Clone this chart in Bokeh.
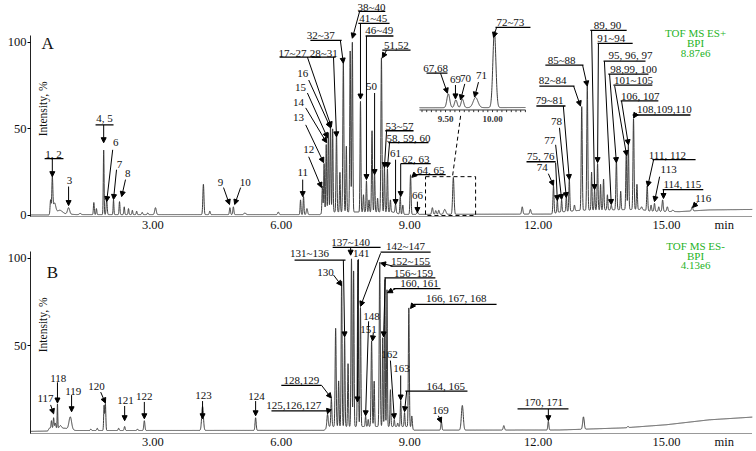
import numpy as np
from bokeh.plotting import figure
from bokeh.models import (Range1d, FixedTicker, Arrow, NormalHead, Label,
                          ColumnDataSource)
from bokeh.layouts import column
from bokeh.embed import file_html
from bokeh.resources import INLINE
from bokeh.core.properties import value

FONT = "Liberation Serif"

# ---------------- Panel A (ES+) peak table: retention time (min), height (%), width (min)
a_rt = [0.61, 0.65, 0.70, 0.82, 1.03, 1.30, 1.62, 1.68, 1.85, 1.92, 2.08, 2.22, 2.33, 2.43,
        2.52, 2.62, 2.75, 2.88, 3.06, 4.18, 4.33, 4.80, 4.88, 5.15, 5.93, 6.45, 6.52, 6.60,
        6.96, 7.00, 7.05, 7.10, 7.15, 7.20, 7.29, 7.37, 7.45, 7.52, 7.61, 7.66, 7.85, 7.92,
        7.99, 8.05, 8.12, 8.18, 8.25, 8.34, 8.41, 8.48, 8.55, 8.67, 8.78, 8.84, 9.02, 9.18,
        9.53, 9.61, 9.68, 9.82, 10.02, 11.63, 11.82, 12.36, 12.45, 12.55, 12.66, 12.73,
        12.85, 13.02, 13.15, 13.25, 13.32, 13.39, 13.46, 13.53, 13.62, 13.71, 13.83, 13.93,
        14.06, 14.11, 14.23, 14.31, 14.42, 14.55, 14.64, 14.72, 14.82, 14.91, 15.02, 15.15,
        15.60]
a_height = [9, 21, 7, 3, 4.5, 1.2, 7.5, 4, 38, 9, 9, 8, 5, 4,
            3, 2.5, 1.8, 1.5, 4.5, 18, 2.5, 4.5, 5, 1.5, 2, 9, 11, 4,
            17, 30, 41, 48, 52, 50, 48, 25, 89, 40, 95, 100, 66, 12,
            20, 9, 49, 24, 10, 91, 28, 27, 9, 6.5, 11, 6, 23.5, 2,
            4.5, 2.8, 3.0, 3.5, 22, 5, 3.5, 17, 9, 9, 11, 21,
            6, 63, 75, 25, 15, 30, 18, 21, 12, 6, 32, 14,
            35, 41, 56, 18, 5, 17, 6, 7, 5, 9, 5, 3,
            5]
a_width = [0.012, 0.012, 0.03, 0.06, 0.025, 0.02, 0.01, 0.01, 0.009, 0.012, 0.009, 0.01, 0.01, 0.01,
           0.01, 0.01, 0.012, 0.012, 0.018, 0.013, 0.012, 0.012, 0.012, 0.02, 0.015, 0.01, 0.01, 0.015,
           0.01, 0.01, 0.01, 0.01, 0.01, 0.01, 0.011, 0.01, 0.012, 0.01, 0.011, 0.011, 0.01, 0.01,
           0.01, 0.01, 0.011, 0.01, 0.01, 0.012, 0.01, 0.01, 0.01, 0.012, 0.01, 0.012, 0.012, 0.015,
           0.015, 0.014, 0.014, 0.025, 0.016, 0.015, 0.015, 0.012, 0.01, 0.01, 0.01, 0.011,
           0.012, 0.012, 0.012, 0.01, 0.01, 0.011, 0.01, 0.011, 0.01, 0.012, 0.012, 0.01,
           0.011, 0.011, 0.012, 0.011, 0.015, 0.012, 0.012, 0.012, 0.012, 0.013, 0.015, 0.02,
           0.015]
a_base_t = [0.14, 0.55, 0.9, 1.2, 6.9, 7.0, 8.6, 8.8, 12.3, 12.5, 13.0, 14.4, 14.6, 15.3, 16.0, 17.1]
a_base_h = [0.3, 0.3, 1.0, 0.5, 0.5, 2.0, 2.0, 0.6, 0.8, 2.0, 3.0, 3.5, 2.5, 2.2, 3.2, 3.5]

# ---------------- Panel B (ES-) peak table
b_rt = [0.58, 0.63, 0.68, 0.72, 0.77, 0.84, 1.07, 1.55, 1.70, 1.86, 1.89, 2.20, 2.34, 2.64,
        2.80, 4.16, 5.40, 7.08, 7.17, 7.27, 7.34, 7.41, 7.48, 7.56, 7.64, 7.69, 7.79, 7.85,
        7.97, 8.03, 8.11, 8.17, 8.30, 8.37, 8.42, 8.47, 8.55, 8.64, 8.72, 8.79, 8.88, 8.98,
        9.05, 9.74, 10.23, 11.20, 12.24, 13.06, 14.10]
b_height = [3, 7.3, 9, 6, 17, 4.5, 9.5, 2.5, 3, 16, 17, 3, 4, 2.5,
            7.3, 15.5, 9, 11, 20, 60, 30, 87, 55, 40, 100, 93, 99, 72,
            10, 8, 53, 30, 98, 55, 88, 82, 25, 8, 6, 19, 12, 72,
            10, 7, 16, 4.5, 7, 9.5, 4]
b_width = [0.02, 0.01, 0.01, 0.012, 0.007, 0.025, 0.03, 0.012, 0.012, 0.01, 0.01, 0.012, 0.012, 0.012,
           0.013, 0.02, 0.013, 0.015, 0.012, 0.012, 0.01, 0.011, 0.01, 0.01, 0.011, 0.01, 0.011, 0.01,
           0.01, 0.01, 0.012, 0.01, 0.012, 0.009, 0.009, 0.009, 0.01, 0.01, 0.01, 0.01, 0.01, 0.011,
           0.012, 0.012, 0.022, 0.015, 0.012, 0.018, 0.015]
b_base_t = [0.14, 0.55, 0.62, 0.95, 1.2, 7.0, 7.1, 9.0, 9.1, 12.5, 14.0, 15.0, 16.0, 17.1]
b_base_h = [1.2, 1.4, 3.0, 3.0, 1.7, 1.8, 4.0, 4.0, 1.9, 2.0, 3.2, 5.0, 7.8, 9.5]

# ---------------- axis tick labels
x_ticks = [3, 6, 9, 12, 15]
x_tick_labels = ["3.00", "6.00", "9.00", "12.00", "15.00"]
inset_ticks = [9.5, 10.0]
inset_tick_labels = ["9.50", "10.00"]

# ---------------- annotations: (text, label x, label y)
a_labels = [("1, 2", 0.68, 35.6), ("3", 1.05, 20.1), ("4, 5", 1.87, 56.3), ("6", 2.13, 42.0),
            ("7", 2.22, 29.3), ("8", 2.41, 24.1), ("9", 4.58, 19.0), ("10", 5.16, 19.0),
            ("11", 6.50, 24.7), ("12", 6.64, 37.9), ("13", 6.40, 56.3), ("14", 6.40, 65.5),
            ("15", 6.45, 73.6), ("16", 6.50, 82.2), ("17~27", 6.26, 93.7), ("28~31", 6.99, 93.7),
            ("32~37", 6.92, 104.0), ("38~40", 8.11, 120.6), ("41~45", 8.15, 113.8),
            ("46~49", 8.29, 106.9), ("50", 8.11, 74.7), ("51,52", 8.69, 98.3),
            ("53~57", 8.76, 51.7), ("58, 59, 60", 8.97, 44.8), ("61", 8.67, 35.6),
            ("62, 63", 9.14, 32.8), ("64, 65", 9.49, 26.4), ("66", 9.18, 11.5),
            ("74", 12.10, 27.6), ("75, 76", 12.06, 34.5), ("77", 12.27, 43.1), ("78", 12.43, 54.0),
            ("79~81", 12.27, 66.7), ("82~84", 12.34, 78.2), ("85~88", 12.55, 89.7),
            ("89, 90", 13.62, 109.8), ("91~94", 13.71, 102.3), ("95, 96, 97", 14.16, 92.5),
            ("98,99, 100", 14.23, 84.5), ("101~105", 14.23, 78.2), ("106, 107", 14.39, 69.0),
            ("108,109,110", 14.95, 60.9), ("111, 112", 15.02, 35.1), ("113", 15.05, 26.4),
            ("114, 115", 15.37, 18.4), ("116", 15.86, 9.8)]
a_bars = [(0.47, 0.91, 32.8), (1.66, 2.08, 52.3), (5.96, 6.92, 91.4), (6.71, 7.27, 91.4),
          (6.68, 7.41, 101.1), (7.80, 8.43, 117.8), (7.80, 8.53, 110.9), (7.97, 8.62, 103.6),
          (8.36, 9.02, 95.4), (8.43, 9.09, 48.9), (8.50, 9.44, 42.0), (8.79, 9.49, 29.9),
          (9.09, 9.84, 23.6), (11.73, 12.41, 31.0), (11.96, 12.64, 63.2), (12.03, 12.85, 74.7),
          (12.17, 13.06, 86.8), (13.22, 14.07, 106.9), (13.39, 14.21, 99.4), (13.53, 14.51, 89.1),
          (13.64, 14.58, 81.6), (13.76, 14.67, 75.3), (13.93, 14.81, 66.1), (14.21, 15.56, 58.0),
          (14.67, 15.68, 32.2), (14.91, 15.86, 14.9)]
a_arrows = [(0.65, 32.8, 0.65, 22.4), (1.03, 16.7, 1.03, 5.7), (1.85, 52.3, 1.85, 42.0),
            (2.06, 37.9, 1.92, 8.0), (2.15, 26.4, 2.08, 9.2), (2.36, 20.7, 2.27, 10.9),
            (4.65, 16.1, 4.79, 6.3), (5.05, 16.1, 4.91, 6.3), (6.50, 20.7, 6.50, 10.9),
            (6.64, 33.9, 6.94, 16.1), (6.57, 52.3, 6.99, 30.5), (6.57, 62.1, 7.06, 42.0),
            (6.61, 70.7, 7.08, 44.8), (6.64, 78.2, 7.15, 50.6), (6.61, 91.4, 7.17, 51.1),
            (7.22, 91.4, 7.29, 45.4), (7.38, 101.1, 7.45, 87.9), (7.83, 117.8, 7.66, 102.3),
            (7.85, 110.9, 7.85, 67.2), (7.99, 103.6, 7.99, 20.7), (8.18, 70.7, 8.18, 23.6),
            (8.46, 95.4, 8.36, 91.0), (8.46, 48.9, 8.41, 27.6), (8.53, 42.0, 8.48, 27.6),
            (8.67, 32.2, 8.67, 6.3), (8.79, 29.9, 8.79, 10.9), (9.12, 23.6, 9.05, 22.0),
            (9.18, 8.0, 9.18, 1.7), (12.24, 24.1, 12.36, 17.2), (12.41, 30.5, 12.45, 8.6),
            (12.41, 40.8, 12.55, 9.2), (12.50, 50.6, 12.66, 10.3), (12.59, 63.2, 12.73, 20.7),
            (12.83, 74.7, 12.99, 63.2), (13.04, 86.8, 13.15, 74.7), (13.25, 106.9, 13.32, 14.9),
            (13.41, 99.4, 13.39, 30.5), (13.55, 89.1, 13.71, 6.3), (13.67, 81.6, 13.83, 30.5),
            (13.79, 74.7, 14.07, 34.5), (13.95, 66.1, 14.11, 40.8), (14.30, 59.2, 14.23, 56.3),
            (14.70, 32.2, 14.56, 16.7), (14.84, 22.4, 14.72, 8.0), (14.93, 14.9, 14.93, 9.8),
            (15.72, 7.5, 15.61, 4.6)]
# inset (zoom of 9.2-10.4 min), in inset units
inset_labels = [("67,68", 9.394, 11.7), ("69", 9.606, 8.4), ("70", 9.712, 8.9),
                ("71", 9.883, 9.7), ("72~73", 10.19, 24.5)]
inset_bars = [(9.298, 9.521, 10.3), (10.032, 10.404, 23.1)]
inset_arrows = [(9.447, 10.3, 9.521, 4.7), (9.606, 7.0, 9.606, 3.1), (9.705, 7.3, 9.66, 2.8),
                (9.851, 7.8, 9.809, 3.6), (10.043, 23.1, 10.011, 20.3)]
inset_span = (9.223, 10.351)
zoom_box = (9.37, 10.54, 0.0, 22.4)
zoom_link = (10.19, 57.5, 10.0, 22.4)

b_labels = [("117", 0.49, 19.7), ("118", 0.79, 31.5), ("119", 1.14, 24.2), ("120", 1.68, 27.0),
            ("121", 2.36, 19.1), ("122", 2.80, 21.3), ("123", 4.18, 21.9), ("124", 5.42, 21.3),
            ("125,126,127", 6.29, 15.7), ("128,129", 6.47, 30.3), ("130", 7.03, 92.1),
            ("131~136", 6.66, 102.8), ("137~140", 7.62, 109.4), ("141", 7.87, 102.8),
            ("142~147", 8.90, 107.0), ("148", 8.11, 66.9), ("151", 8.04, 59.6),
            ("152~155", 9.02, 98.3), ("156~159", 9.09, 91.6), ("160, 161", 9.23, 86.0),
            ("162", 8.53, 44.9), ("163", 8.81, 37.1), ("164, 165", 9.84, 27.0),
            ("166, 167,  168", 10.12, 77.0), ("169", 9.72, 12.9), ("170, 171", 12.13, 18.0)]
b_bars = [(5.77, 7.15, 12.9), (6.00, 6.94, 27.5), (6.31, 7.50, 98.9), (7.20, 8.32, 106.2),
          (8.32, 9.49, 103.4), (8.55, 9.49, 95.5), (8.41, 9.60, 88.8), (8.62, 9.72, 82.6),
          (8.90, 10.35, 24.2), (9.09, 11.03, 73.6), (11.52, 12.71, 14.0)]
b_arrows = [(0.61, 16.3, 0.68, 11.2), (0.77, 29.2, 0.77, 17.4), (1.10, 21.9, 1.10, 12.4),
            (1.78, 23.6, 1.89, 17.4), (2.34, 15.7, 2.34, 7.3), (2.80, 18.0, 2.80, 8.4),
            (4.16, 18.5, 4.16, 8.4), (5.40, 18.5, 5.40, 10.1), (7.10, 12.9, 7.08, 11.2),
            (6.94, 27.5, 7.17, 20.2), (7.22, 90.4, 7.41, 84.3), (7.45, 98.9, 7.48, 55.1),
            (7.62, 106.2, 7.62, 101.7), (7.80, 99.4, 7.78, 18.0), (8.32, 102.8, 7.85, 72.5),
            (8.04, 64.0, 7.97, 10.1), (8.15, 57.3, 8.13, 52.8), (8.60, 95.5, 8.32, 97.2),
            (8.43, 88.8, 8.39, 55.1), (8.67, 82.6, 8.48, 80.3), (8.55, 41.6, 8.64, 8.4),
            (8.79, 33.1, 8.79, 19.1), (8.93, 24.2, 8.88, 12.4), (9.09, 73.6, 9.02, 71.3),
            (9.67, 10.1, 9.74, 6.2), (12.24, 14.0, 12.24, 7.3)]

a_mode = ["TOF MS ES+", "BPI", "8.87e6"]
b_mode = ["TOF MS ES-", "BPI", "4.13e6"]

X_RANGE = (0.14, 17.01)


def trace(t, rts, hs, ws, bt, bh):
    base = np.interp(t, bt, bh)
    y = base.copy()
    for r, h, w in zip(rts, hs, ws):
        amp = h - np.interp(r, bt, bh)
        y += amp * np.exp(-0.5 * ((t - r) / w) ** 2)
    return y


def style_axes(p, yticks, ybounds):
    p.grid.visible = False
    p.outline_line_color = None
    xa = p.xaxis[0]
    xa.ticker = FixedTicker(ticks=x_ticks + [16.35])
    xa.major_label_overrides = {**{float(k): v for k, v in zip(x_ticks, x_tick_labels)},
                                16.35: "min"}
    xa.axis_line_dash = "1 1"
    xa.axis_line_color = "#333333"
    xa.major_tick_line_color = None
    xa.major_tick_out = 0
    xa.major_tick_in = 0
    xa.minor_tick_line_color = None
    xa.minor_tick_out = 0
    xa.major_label_standoff = 1
    xa.major_label_text_font = FONT
    xa.major_label_text_font_size = "12.5px"
    xa.major_label_text_color = "#111111"
    ya = p.yaxis[0]
    ya.ticker = FixedTicker(ticks=yticks)
    ya.bounds = ybounds
    ya.major_tick_out = 3
    ya.major_tick_in = 0
    ya.minor_tick_line_color = None
    ya.major_label_standoff = 1
    ya.major_label_text_font = FONT
    ya.major_label_text_font_size = "12.5px"
    ya.major_label_text_color = "#111111"
    ya.axis_line_color = "#222222"


def annotate(p, labels, bars, arrows, **rng):
    p.text(x=[l[1] for l in labels], y=[l[2] for l in labels], text=[l[0] for l in labels],
           text_font=value(FONT), text_font_size="11px", text_align="center",
           text_baseline="middle", text_color="#111111", **rng)
    if bars:
        p.segment(x0=[b[0] for b in bars], x1=[b[1] for b in bars], y0=[b[2] for b in bars],
                  y1=[b[2] for b in bars], line_color="black", line_width=1.3, **rng)
    src = ColumnDataSource(dict(x0=[a[0] for a in arrows], y0=[a[1] for a in arrows],
                                x1=[a[2] for a in arrows], y1=[a[3] for a in arrows]))
    p.add_layout(Arrow(source=src, x_start="x0", y_start="y0", x_end="x1", y_end="y1",
                       line_color="black", line_width=1,
                       end=NormalHead(size=5, fill_color="black", line_color="black"),
                       **rng))


def mode_text(p, lines, y_top, step):
    p.text(x=[15.68] * 3, y=[y_top - i * step for i in range(3)], text=lines,
           text_font=value(FONT), text_font_size="11px", text_align="center",
           text_baseline="middle", text_color="#1fb31f")


def ylabel(p, y):
    p.add_layout(Label(x=12, y=y, x_units="screen", y_units="data", text="Intensity, %",
                       angle=np.pi / 2, text_align="center", text_baseline="middle",
                       text_font=FONT, text_font_size="11.5px", text_color="#111111"))


t = np.linspace(X_RANGE[0], X_RANGE[1], 7000)

# ---------------- Panel A
pA = figure(width=756, height=234, x_range=Range1d(*X_RANGE), y_range=Range1d(-0.6, 124.1),
            output_backend="svg", toolbar_location=None, title=None,
            min_border_left=30, min_border_right=4, min_border_top=0, min_border_bottom=17)
pA.extra_x_ranges = {"inset_x": Range1d(5.085, 12.766)}
pA.extra_y_ranges = {"inset_y": Range1d(-29.81, 30.64)}
style_axes(pA, [0, 50, 100], (-0.6, 104))
pA.line(t, trace(t, a_rt, a_height, a_width, a_base_t, a_base_h),
        line_color="#3c3c3c", line_width=1)
annotate(pA, a_labels, a_bars, a_arrows)
# zoom box + link
pA.quad(left=zoom_box[0], right=zoom_box[1], bottom=zoom_box[2], top=zoom_box[3],
        fill_color=None, line_color="black", line_dash="4 3", line_width=1)
pA.segment(x0=zoom_link[0], y0=zoom_link[1], x1=zoom_link[2], y1=zoom_link[3],
           line_color="black", line_dash="4 3", line_width=1)
# inset
rng = dict(x_range_name="inset_x", y_range_name="inset_y")
ti = np.linspace(inset_span[0], inset_span[1], 800)
pA.line(ti, trace(ti, a_rt, a_height, a_width, a_base_t, a_base_h),
        line_color="#3c3c3c", line_width=1, **rng)
pA.segment(x0=inset_span[0], y0=0, x1=inset_span[1], y1=0, line_color="#333333",
           line_width=1, **rng)
mt = np.arange(9.25, 10.351, 0.05)
pA.segment(x0=mt, x1=mt, y0=np.zeros_like(mt), y1=np.full_like(mt, -0.6),
           line_color="#333333", line_width=1, **rng)
pA.text(x=inset_ticks, y=[-2.4] * 2, text=inset_tick_labels, text_font=value(FONT),
        text_font_size="9px", text_font_style="bold", text_align="center",
        text_baseline="middle", text_color="#333333", **rng)
annotate(pA, inset_labels, inset_bars, inset_arrows, **rng)
mode_text(pA, a_mode, 105.2, 5.8)
pA.text(x=[0.54], y=[99.4], text=["A"], text_font=value(FONT), text_font_size="17px",
        text_align="center", text_baseline="middle", text_color="#111111")
ylabel(pA, 61.5)

# ---------------- Panel B
pB = figure(width=756, height=217, x_range=Range1d(*X_RANGE), y_range=Range1d(0, 113.5),
            output_backend="svg", toolbar_location=None, title=None,
            min_border_left=30, min_border_right=4, min_border_top=0, min_border_bottom=15)
style_axes(pB, [50, 100], (0, 104))
pB.line(t, trace(t, b_rt, b_height, b_width, b_base_t, b_base_h),
        line_color="#3c3c3c", line_width=1)
annotate(pB, b_labels, b_bars, b_arrows)
mode_text(pB, b_mode, 106.7, 5.3)
pB.text(x=[0.65], y=[92.1], text=["B"], text_font=value(FONT), text_font_size="17px",
        text_align="center", text_baseline="middle", text_color="#111111")
ylabel(pB, 62)

layout = column(pA, pB, spacing=0)
open("out.html", "w").write(file_html(layout, INLINE))
